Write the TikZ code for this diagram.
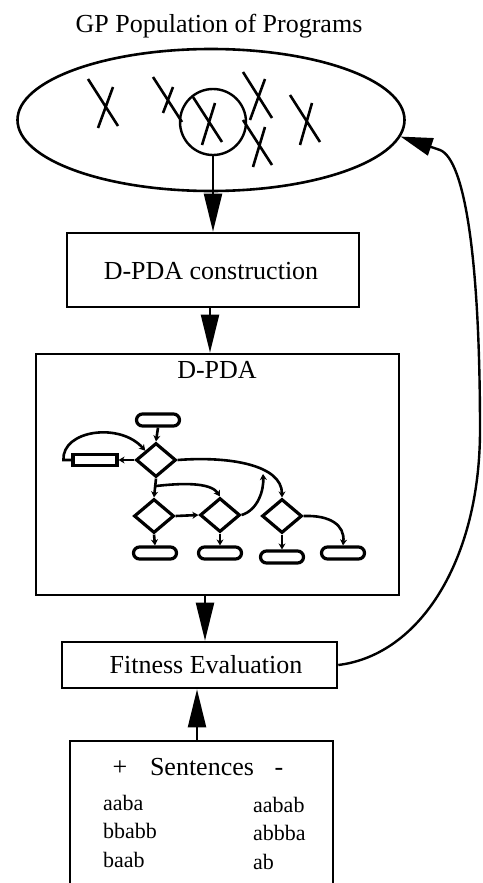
\documentclass[tikz,border=0pt]{standalone}
\usepackage{fontspec}
\setmainfont{Liberation Serif}
\usetikzlibrary{arrows.meta,shapes.geometric,calc}
\newcommand\figfont{\fontsize{26}{30}\selectfont}
\newcommand\wordfont{\fontsize{22}{26}\selectfont}
\tikzset{
  mainbox/.style={draw, line width=2.6pt, inner sep=0pt},
  bigarrow/.style={line width=2.2pt, -{Triangle[length=38pt,width=18pt]}},
  cross/.style={line width=2.6pt},
  sarrow/.style={line width=2.6pt, -{Stealth[length=6pt,width=7pt]}},
  rr/.style={draw, line width=3.2pt, rounded corners=6pt, minimum width=43pt, minimum height=12pt, inner sep=0pt},
  dia/.style={diamond, draw, line width=3.2pt, inner sep=0pt, minimum width=40pt, minimum height=34pt},
  txt/.style={inner sep=0pt, font=\figfont},
  word/.style={inner sep=0pt, font=\wordfont, anchor=base west},
}
\begin{document}
\begin{tikzpicture}[x=1pt,y=-1pt]
\useasboundingbox (0,0) rectangle (482,883);

% title and population
\node[txt, anchor=base] (title) at (219,33) {GP Population of Programs};
\node[ellipse, draw, line width=2.6pt, minimum width=387pt, minimum height=142pt, inner sep=0pt] (pop) at (211,120) {};
\node[circle, draw, line width=2.4pt, minimum size=66pt, inner sep=0pt] (sel) at (213,122) {};

% crosses
\draw[cross] (88,79) -- (118,126) (113,87) -- (98,128);
\draw[cross] (153,77) -- (182,122) (173,87) -- (163,113);
\draw[cross] (193,97) -- (222,142) (215,103) -- (202,145);
\draw[cross] (243,72) -- (272,118) (265,79) -- (250,120);
\draw[cross] (243,120) -- (272,165) (265,127) -- (253,167);
\draw[cross] (290,95) -- (320,142) (312,103) -- (300,145);

% boxes
\node[mainbox, minimum width=292pt, minimum height=74pt] (con) at (213,270) {};
\node[txt, anchor=base] (contxt) at (211,279) {D-PDA construction};
\node[mainbox, minimum width=363pt, minimum height=241pt] (dpda) at (217.5,474.5) {};
\node[txt, anchor=base] (dpdatxt) at (217,378) {D-PDA};
\node[mainbox, minimum width=275pt, minimum height=46pt] (fit) at (199.5,665) {};
\node[txt, anchor=base] (fittxt) at (206,673) {Fitness Evaluation};
\node[mainbox, minimum width=263pt, minimum height=170pt] (sent) at (201.5,826) {};

% sentences
\node[txt, anchor=base] (plus) at (120,775) {+};
\node[txt, anchor=base] (sh) at (202,775) {Sentences};
\node[txt, anchor=base] (minus) at (279,775) {-};
\node[word] (p1) at (103,810) {aaba};
\node[word] (p2) at (103,838) {bbabb};
\node[word] (p3) at (103,867) {baab};
\node[word] (n1) at (253,812) {aabab};
\node[word] (n2) at (253,840) {abbba};
\node[word] (n3) at (253,869) {ab};

% main arrows
\draw[bigarrow] (sel.south) -- (sel.south |- con.north);
\coordinate (c2) at (210,0);
\draw[bigarrow] (con.south -| c2) -- (dpda.north -| c2);
\coordinate (c3) at (205,0);
\draw[bigarrow] (dpda.south -| c3) -- (fit.north -| c3);
\coordinate (c4) at (197,0);
\draw[bigarrow] (sent.north -| c4) -- (fit.south -| c4);
\draw[line width=2.4pt, -{Triangle[length=32pt,width=18pt]}] (fit.east) .. controls (420,655) and (480,560) .. (480,430) .. controls (480,260) and (465,160) .. (440,150) -- (pop.-5);

% inner D-PDA graph
\node[rr] (rtop) at (158,420) {};
\node[dia] (d1) at (156,460) {};
\node[draw, line width=3.2pt, minimum width=44pt, minimum height=11pt, inner sep=0pt] (lrect) at (95,460) {};
\node[dia] (d2) at (154,516) {};
\node[dia] (d3) at (220,515) {};
\node[dia] (d4) at (282,516) {};
\node[rr] (r1) at (155,553) {};
\node[rr] (r2) at (220,553) {};
\node[rr] (r3) at (282,557) {};
\node[rr] (r4) at (343,553) {};

\draw[sarrow] (rtop.south) -- (d1.north);
\draw[sarrow] (d1.west) -- (lrect.east);
\draw[sarrow] (lrect.west) -- ++(-8,0) .. controls (62,430) and (120,422) .. (d1.north west);
\draw[sarrow] (d1.south) -- (d2.north);
\coordinate (split) at ($(d1.south)!0.4!(d2.north)$);
\draw[sarrow] (split) .. controls (190,482) and (212,484) .. (d3.north);
\draw[sarrow] (d2.east) -- (d3.west);
\draw[sarrow] (d1.east) .. controls (230,456) and (282,465) .. (d4.north);
\coordinate (join) at (263,474);
\draw[sarrow] (d3.east) .. controls (258,510) and (264,490) .. (join);
\draw[sarrow] (d4.east) .. controls (330,515) and (345,525) .. (r4.north);
\draw[sarrow] (d2.south) -- (r1.north);
\draw[sarrow] (d3.south) -- (r2.north);
\draw[sarrow] (d4.south) -- (r3.north);
\end{tikzpicture}
\end{document}
